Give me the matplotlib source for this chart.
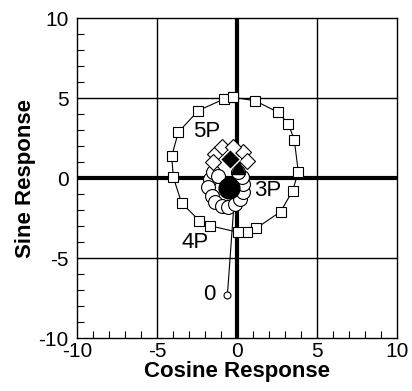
import matplotlib
matplotlib.use('Agg')
import matplotlib.pyplot as plt
from matplotlib.ticker import MultipleLocator

plt.rcParams['font.family'] = ['Liberation Sans', 'DejaVu Sans']
plt.rcParams['axes.unicode_minus'] = False

# ring of harmonic responses (open squares), going clockwise from the top
ring_x = [-0.23, 1.13, 2.58, 3.21, 3.58, 3.83, 3.48, 2.73, 1.19, 0.6, 0.08,
          -1.69, -2.35, -3.46, -3.98, -4.08, -3.67, -2.42, -0.81]
ring_y = [5.04, 4.83, 4.1, 3.38, 2.38, 0.39, -0.79, -2.1, -3.15, -3.35, -3.4,
          -2.98, -2.67, -1.56, 0.04, 1.35, 2.86, 4.21, 4.94]

# cluster of open circles around the 3P mean
c3_x = [-1.69, -1.79, -1.58, -1.38, -0.96, -0.54, -0.13, 0.19, 0.35, 0.4, 0.29,
        0.08, -1.48, -1.17]
c3_y = [-0.06, -0.58, -1.1, -1.52, -1.73, -1.83, -1.63, -1.31, -0.9, -0.38, 0.04,
        0.35, 0.35, 0.15]
mean3 = (-0.5, -0.6)

# open diamonds around the 5P mean
d5_x = [-1.38, -1.48, -0.96, 0.4, 0.6, -0.23]
d5_y = [1.5, 0.98, 1.92, 1.6, 1.08, 1.92]
mean5 = (-0.44, 1.2)
tri = (0.08, 0.67)

# 0 deg reference line
ref_x = [-0.6, -0.2]
ref_y = [-7.3, -1.8]

fig = plt.figure(figsize=(4.12, 3.91), dpi=100)
ax = fig.add_axes([77/412, (391-338)/391, 320/412, 320/391])

for v in (-5, 5):
    ax.axvline(v, color='black', lw=1, zorder=1)
    ax.axhline(v, color='black', lw=1, zorder=1)
ax.axvline(0, color='black', lw=3, zorder=1)
ax.axhline(0, color='black', lw=3, zorder=1)

ax.plot(ring_x + ring_x[:1], ring_y + ring_y[:1], '-', color='black', lw=0.8,
        marker='s', ms=7, mfc='white', mec='black', mew=0.8, zorder=3)

ax.plot(ref_x, ref_y, '-', color='black', lw=0.8, zorder=3)
ax.plot(ref_x[0], ref_y[0], 'o', ms=5, mfc='white', mec='black', mew=0.8, zorder=4)

ax.plot(c3_x, c3_y, 'o', ls='none', ms=10, mfc='white', mec='black', mew=0.8, zorder=4)
ax.plot(*mean3, 'o', ms=15, color='black', zorder=5)

ax.plot(d5_x, d5_y, 'D', ls='none', ms=8, mfc='white', mec='black', mew=0.8, zorder=5)
ax.plot(*tri, '^', ms=10, color='black', zorder=6)
ax.plot(*mean5, 'D', ms=10, mfc='black', mec='white', mew=1, zorder=6)

fs = 15
ax.text(-1.9, 2.9, '5P', fontsize=16, ha='center', va='center', zorder=7)
ax.text(1.9, -0.8, '3P', fontsize=16, ha='center', va='center', zorder=7)
ax.text(-2.6, -4.0, '4P', fontsize=16, ha='center', va='center', zorder=7)
ax.text(-1.7, -7.3, '0', fontsize=16, ha='center', va='center', zorder=7)

ax.set_xlim(-10, 10)
ax.set_ylim(-10, 10)
ax.xaxis.set_major_locator(MultipleLocator(5))
ax.yaxis.set_major_locator(MultipleLocator(5))
ax.xaxis.set_minor_locator(MultipleLocator(1))
ax.yaxis.set_minor_locator(MultipleLocator(1))
ax.tick_params(which='both', direction='in', labelsize=fs)
ax.tick_params(axis='x', pad=3)
ax.tick_params(axis='y', pad=6)
ax.tick_params(which='major', length=0)
ax.tick_params(which='minor', length=5, width=0.8)
for s in ax.spines.values():
    s.set_linewidth(1)

ax.set_xlabel('Cosine Response', fontsize=16, fontweight='bold', labelpad=0)
ax.set_ylabel('Sine Response', fontsize=16, fontweight='bold', labelpad=2)

fig.savefig('out.png', dpi=100)
